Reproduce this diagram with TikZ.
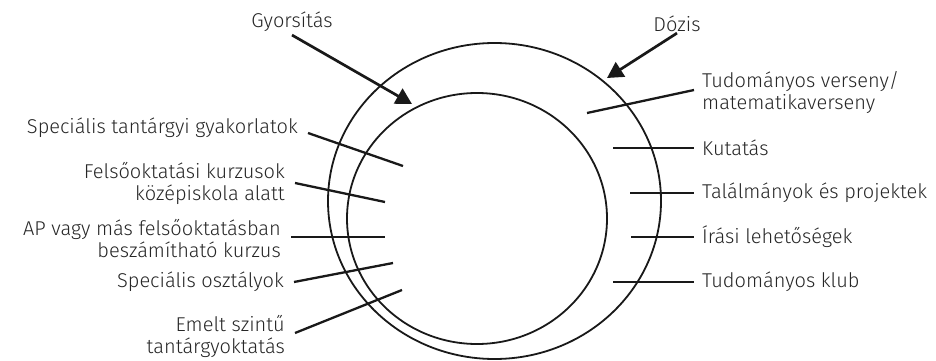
\documentclass[tikz,border=0pt]{standalone}
\usepackage{fontspec}
\setmainfont{Fira Sans}[UprightFont=* Light]
\usepackage{tikz}
\usetikzlibrary{arrows.meta}

\tikzset{
  lbl/.style={font=\fontsize{20}{22}\selectfont, text=black!85, inner sep=1pt},
  leftlbl/.style={lbl, anchor=east, align=right, inner xsep=10pt},
  rightlbl/.style={lbl, anchor=west, align=left, inner xsep=8pt},
  ring/.style={line width=1.8pt, black!90},
  tick/.style={line width=2.3pt, black!90},
  pointer/.style={line width=2.7pt, black!90, -{Triangle[length=16pt,width=17pt]}}
}

\begin{document}
\begin{tikzpicture}[x=1pt,y=-1pt]
\useasboundingbox (0,0) rectangle (936,361);

\draw[ring] (494.5,201) ellipse [x radius=166.5, y radius=158];
\draw[ring] (477,218.5) ellipse [x radius=130, y radius=125.5];

\node[lbl] (gyors) at (292,22) {Gyorsítás};
\node[lbl] (dozis) at (677,24) {Dózis};
\coordinate (gyorsTip) at (412,104);
\coordinate (dozisTip) at (607,78);
\draw[pointer] ([yshift=-2pt]gyors.south) -- (gyorsTip);
\draw[pointer] (dozis.south) -- (dozisTip);

\node[leftlbl] (spec) at (308,128) {Speciális tantárgyi gyakorlatok};
\node[leftlbl] (felso) at (295,183) {Felsőoktatási kurzusok\\középiskola alatt};
\node[leftlbl] (ap) at (291,238) {AP vagy más felsőoktatásban\\beszámítható kurzus};
\node[leftlbl] (osztaly) at (294,282) {Speciális osztályok};
\node[leftlbl] (emelt) at (295,336) {Emelt szintű\\tantárgyoktatás};

\coordinate (specEnd) at (403,166);
\coordinate (felsoEnd) at (385,202);
\coordinate (apEnd) at (385,237);
\coordinate (osztalyEnd) at (393,263);
\coordinate (emeltEnd) at (402,290);

\draw[tick] ([yshift=-5pt]spec.east) -- (specEnd);
\draw[tick] (felso.east) -- (felsoEnd);
\draw[tick] ([yshift=1pt]ap.east) -- (apEnd);
\draw[tick] (osztaly.east) -- (osztalyEnd);
\draw[tick] ([yshift=3pt]emelt.east) -- (emeltEnd);

\node[rightlbl] (verseny) at (694,93) {Tudományos verseny/\\matematikaverseny};
\node[rightlbl] (kutatas) at (694,148) {Kutatás};
\node[rightlbl] (talalm) at (694,193) {Találmányok és projektek};
\node[rightlbl] (irasi) at (694,237) {Írási lehetőségek};
\node[rightlbl] (klub) at (694,282) {Tudományos klub};

\coordinate (versenyEnd) at (587,113);
\coordinate (kutatasEnd) at (613,148);
\coordinate (talalmEnd) at (630,193);
\coordinate (irasiEnd) at (631,237);
\coordinate (klubEnd) at (613,282);

\draw[tick] (versenyEnd) -- ([yshift=3pt]verseny.west);
\draw[tick] (kutatasEnd) -- (kutatas.west);
\draw[tick] (talalmEnd) -- (talalm.west);
\draw[tick] (irasiEnd) -- (irasi.west);
\draw[tick] (klubEnd) -- (klub.west);
\end{tikzpicture}
\end{document}
